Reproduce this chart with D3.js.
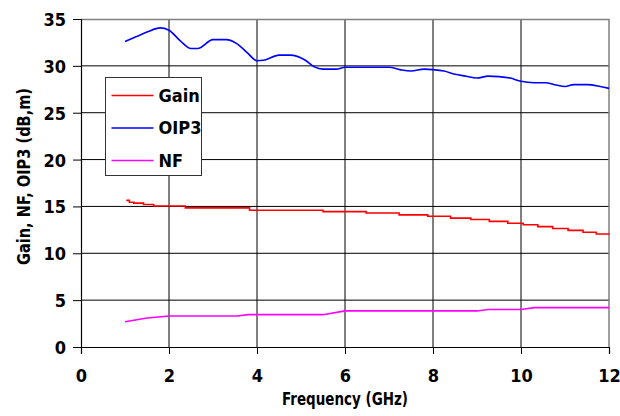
<!DOCTYPE html>
<html>
<head>
<meta charset="utf-8">
<script src="https://cdn.jsdelivr.net/npm/d3@7"></script>
<style>
  body { margin: 0; background: #fff; }
  text { font-family: "Liberation Sans Narrow", "DejaVu Sans Condensed", sans-serif; font-weight: bold; fill: #000; }
</style>
</head>
<body>
<svg width="620" height="416"></svg>
<script>
const xTicks = [0, 2, 4, 6, 8, 10, 12];
const yTicks = [0, 5, 10, 15, 20, 25, 30, 35];

const oipFreq = [1.0, 1.25, 1.5, 1.8, 2.0, 2.25, 2.5, 2.65, 3.0, 3.3, 3.55, 3.77, 4.0, 4.15, 4.5, 4.75, 5.1, 5.3, 5.5, 5.8, 6.0, 6.5, 7.0, 7.25, 7.5, 7.8, 8.0, 8.25, 8.5, 8.75, 9.0, 9.25, 9.5, 9.75, 10.0, 10.3, 10.55, 10.8, 11.0, 11.2, 11.5, 11.8, 12.0];
const oipVals = [32.6, 33.1, 33.6, 34.05, 33.8, 32.7, 31.85, 31.85, 32.8, 32.8, 32.35, 31.45, 30.55, 30.6, 31.15, 31.15, 30.6, 29.9, 29.65, 29.65, 29.85, 29.85, 29.85, 29.6, 29.45, 29.65, 29.6, 29.45, 29.1, 28.9, 28.7, 28.9, 28.85, 28.7, 28.35, 28.2, 28.2, 27.95, 27.8, 28.0, 28.0, 27.8, 27.6];

const gainFreq = [1.03, 1.1, 1.2, 1.42, 1.65, 2.37, 3.83, 5.5, 6.48, 7.23, 7.88, 8.4, 8.86, 9.28, 9.7, 10.05, 10.38, 10.72, 11.07, 11.41, 11.71, 12.0];
const gainVals = [15.65, 15.45, 15.35, 15.2, 15.05, 14.85, 14.6, 14.45, 14.3, 14.1, 13.95, 13.75, 13.6, 13.4, 13.2, 13.05, 12.85, 12.65, 12.45, 12.25, 12.05, 12.0];

const nfFreq = [1.0, 1.5, 2.0, 3.55, 3.8, 5.5, 6.0, 9.0, 9.25, 10.0, 10.3, 12.0];
const nfVals = [2.7, 3.1, 3.3, 3.3, 3.45, 3.45, 3.85, 3.85, 4.0, 4.0, 4.2, 4.2];

const seriesNames = ["Gain", "OIP3", "NF"];
const seriesColors = ["#ff0000", "#0000ff", "#ff00ff"];

const svg = d3.select("svg");
const margin = { left: 81, top: 19, right: 11, bottom: 69 };
const width = 620 - margin.left - margin.right;
const height = 416 - margin.top - margin.bottom;

const x = d3.scaleLinear().domain([0, 12]).range([0, width]);
const y = d3.scaleLinear().domain([0, 35]).range([height, 0]);

const g = svg.append("g").attr("transform", `translate(${margin.left},${margin.top})`);

// grid
g.selectAll(".vgrid").data(xTicks.slice(1, -1)).join("line")
  .attr("x1", d => x(d)).attr("x2", d => x(d))
  .attr("y1", 0).attr("y2", height)
  .attr("stroke", "#000").attr("stroke-width", 1);
g.selectAll(".hgrid").data(yTicks.slice(1, -1)).join("line")
  .attr("x1", 0).attr("x2", width)
  .attr("y1", d => y(d)).attr("y2", d => y(d))
  .attr("stroke", "#000").attr("stroke-width", 1);

// top and right frame
g.append("path")
  .attr("d", `M0,0.5H${width}V${height}`)
  .attr("fill", "none").attr("stroke", "#808080").attr("stroke-width", 1.5);

// axes
const xAxis = g.append("g").attr("transform", `translate(0,${height})`)
  .call(d3.axisBottom(x).tickValues(xTicks).tickSize(7).tickPadding(0));
const yAxis = g.append("g")
  .call(d3.axisLeft(y).tickValues(yTicks).tickSize(8).tickPadding(7));

[xAxis, yAxis].forEach(a => {
  a.select(".domain").attr("stroke", "#000").attr("stroke-width", 1.2);
  a.selectAll(".tick line").attr("stroke", "#000");
  a.selectAll("text").attr("font-size", 18).style("font-family", null).attr("fill", "#000");
});
xAxis.selectAll("text").attr("y", 35).attr("dy", 0);
yAxis.selectAll("text").attr("dy", "0.36em");

// lines
const zip = (xs, ys) => xs.map((f, i) => [f, ys[i]]);
const seriesData = [
  { pts: zip(gainFreq, gainVals), curve: d3.curveStepAfter },
  { pts: zip(oipFreq, oipVals), curve: d3.curveMonotoneX },
  { pts: zip(nfFreq, nfVals), curve: d3.curveLinear }
];
seriesData.forEach((s, i) => {
  g.append("path")
    .attr("d", d3.line().x(d => x(d[0])).y(d => y(d[1])).curve(s.curve)(s.pts))
    .attr("fill", "none")
    .attr("stroke", seriesColors[i])
    .attr("stroke-width", 1.6);
});

// axis titles
svg.append("text")
  .attr("x", 345).attr("y", 405)
  .attr("text-anchor", "middle").attr("font-size", 18)
  .attr("textLength", 126).attr("lengthAdjust", "spacingAndGlyphs")
  .text("Frequency (GHz)");
svg.append("text")
  .attr("transform", "translate(30,176.5) rotate(-90)")
  .attr("text-anchor", "middle").attr("font-size", 18)
  .attr("textLength", 177).attr("lengthAdjust", "spacingAndGlyphs")
  .text("Gain, NF, OIP3 (dB,m)");

// legend
const legend = svg.append("g").attr("transform", "translate(105.5,77.5)");
legend.append("rect")
  .attr("width", 96).attr("height", 98)
  .attr("fill", "#fff").attr("stroke", "#333").attr("stroke-width", 1);
seriesNames.forEach((name, i) => {
  const ly = 18 + i * 32.5;
  legend.append("line")
    .attr("x1", 6).attr("x2", 48).attr("y1", ly).attr("y2", ly)
    .attr("stroke", seriesColors[i]).attr("stroke-width", 1.6);
  legend.append("text")
    .attr("x", 53).attr("y", ly).attr("dy", "0.36em")
    .attr("font-size", 18)
    .text(name);
});
</script>
</body>
</html>
